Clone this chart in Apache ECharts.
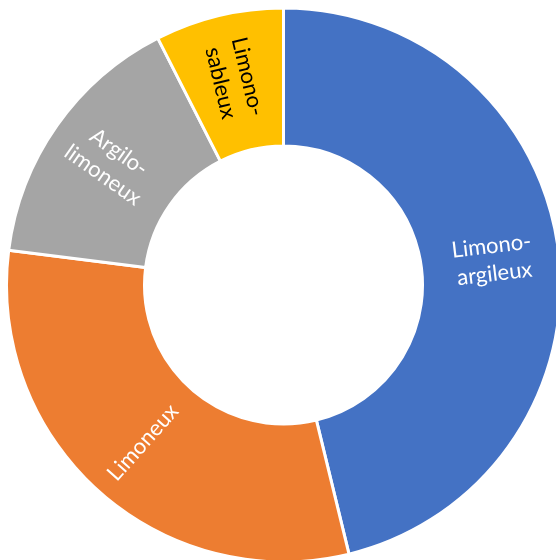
<!DOCTYPE html>
<html>
<head>
<meta charset="utf-8">
<script src="https://cdn.jsdelivr.net/npm/echarts@6/dist/echarts.min.js"></script>
<style>
html,body{margin:0;padding:0;background:#fff;}
#chart{width:556px;height:560px;}
</style>
</head>
<body>
<div id="chart"></div>
<script>
const categories = ["Limono-\nargileux", "Limoneux", "Argilo-\nlimoneux", "Limono-\nsableux"];
const values = [46.2, 30.8, 15.5, 7.5];
const colors = ["#4472C4", "#ED7D31", "#A5A5A5", "#FFC000"];
const labelColors = ["#ffffff", "#ffffff", "#ffffff", "#000000"];

const chart = echarts.init(document.getElementById('chart'), null, {renderer: 'canvas'});
chart.setOption({
  animation: false,
  series: [{
    type: 'pie',
    center: [283.5, 285],
    radius: [139, 277],
    startAngle: 90,
    clockwise: true,
    avoidLabelOverlap: false,
    itemStyle: { borderColor: '#ffffff', borderWidth: 3 },
    label: {
      show: true,
      position: 'inside',
      rotate: 'radial',
      fontFamily: 'Lato',
      fontSize: 22,
      lineHeight: 28,
      formatter: p => p.name
    },
    labelLine: { show: false },
    emphasis: { disabled: true },
    data: categories.map((c, i) => ({
      name: c,
      value: values[i],
      itemStyle: { color: colors[i] },
      label: { color: labelColors[i] }
    }))
  }]
});
</script>
</body>
</html>
